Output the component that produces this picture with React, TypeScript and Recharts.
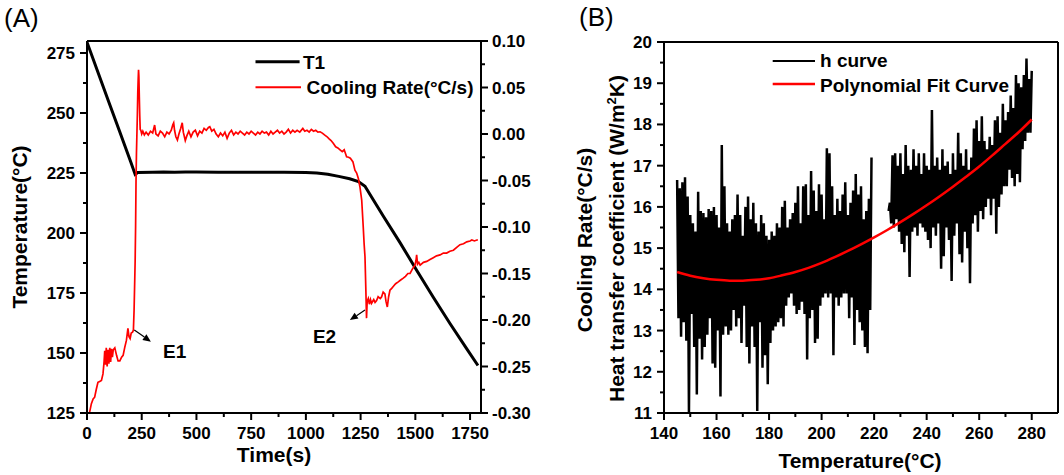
import React from 'react';
import { LineChart, Line, XAxis, YAxis, ReferenceLine, ReferenceDot, Legend } from 'recharts';

const FONT = "'Liberation Sans', Arial, Helvetica, sans-serif";

// ---------------- Panel A data ----------------
const t1Time = [0, 50, 100, 150, 200, 220, 232, 300, 350, 400, 450, 500, 600, 700, 800, 900, 1000, 1050, 1100, 1150, 1200, 1240, 1270, 1300, 1354, 1430, 1506, 1582, 1659, 1735, 1786];
const t1Temp = [279.5, 267.0, 254.5, 242.1, 229.6, 224.4, 225.2, 225.3, 225.4, 225.3, 225.4, 225.4, 225.3, 225.3, 225.3, 225.3, 225.2, 225.0, 224.5, 223.6, 222.6, 221.4, 219.5, 215.0, 207.0, 196.0, 184.5, 173.2, 162.2, 151.7, 144.8];

const crTime = [12, 20, 28, 35, 42, 50, 58, 66, 73, 78,
  81, 85, 88, 92, 96, 100, 104, 108, 112, 116,
  120, 127, 135, 142, 150, 158, 165, 172, 180, 187,
  192, 197, 202, 208, 212, 215, 218, 220, 222, 224,
  226, 228, 230, 232, 234, 235.5, 237, 239, 241, 243,
  246, 250, 255, 262, 270, 280, 290, 300, 309, 315,
  325, 335, 345, 355, 365, 375, 385, 392, 396, 400,
  406, 413, 420, 428, 435, 440, 449, 456, 465, 475,
  485, 495, 505, 515, 525, 535, 545, 555, 561, 570,
  580, 590, 600, 610, 620, 630, 640, 650, 660, 670,
  680, 690, 700, 710, 720, 730, 740, 750, 760, 770,
  780, 790, 800, 810, 820, 830, 840, 850, 860, 870,
  880, 890, 900, 910, 920, 930, 940, 950, 960, 972,
  986, 995, 1005, 1015, 1025, 1035, 1045, 1055, 1065, 1075,
  1085, 1097, 1105, 1115, 1125, 1136, 1146, 1156, 1166, 1175,
  1186, 1195, 1203, 1209, 1215, 1224, 1232, 1240, 1247, 1255,
  1262, 1266, 1270, 1274, 1277, 1280, 1285, 1290, 1295, 1300,
  1310, 1316, 1323, 1330, 1340, 1346, 1353, 1361, 1366, 1372,
  1378, 1384, 1392, 1399, 1410, 1422, 1433, 1445, 1455, 1466,
  1476, 1487, 1498, 1503, 1506, 1510, 1516, 1522, 1537, 1552,
  1567, 1582, 1597, 1613, 1628, 1643, 1658, 1674, 1689, 1704,
  1720, 1735, 1750, 1758, 1770, 1781, 1786];
const crRate = [-0.299, -0.290, -0.285, -0.283, -0.275, -0.267, -0.266, -0.265, -0.258, -0.245,
  -0.233, -0.248, -0.230, -0.250, -0.232, -0.247, -0.230, -0.245, -0.231, -0.240,
  -0.232, -0.230, -0.238, -0.244, -0.244, -0.240, -0.238, -0.230, -0.222, -0.209,
  -0.218, -0.220, -0.214, -0.213, -0.211, -0.190, -0.158, -0.136, -0.100, -0.050,
  -0.020, 0.000, 0.020, 0.045, 0.060, 0.069, 0.062, 0.040, 0.020, 0.005,
  0.004, 0.000, 0.003, -0.001, 0.002, -0.001, 0.003, 0.001, 0.0096, 0.000,
  -0.002, 0.003, 0.001, -0.003, 0.002, 0.000, 0.004, 0.010, 0.012, 0.004,
  -0.003, -0.0065, 0.000, 0.006, 0.012, 0.002, -0.007, -0.002, 0.003, -0.003,
  0.002, 0.004, -0.002, 0.003, 0.001, 0.006, 0.004, 0.007, 0.0078, 0.003,
  0.005, 0.000, -0.003, 0.001, -0.002, 0.002, -0.0047, 0.001, 0.004, -0.001,
  0.002, 0.000, 0.003, 0.001, -0.001, 0.002, 0.000, 0.003, 0.001, -0.001,
  0.002, 0.000, 0.003, 0.001, 0.002, -0.001, 0.003, 0.000, 0.002, 0.004,
  0.001, 0.003, 0.000, 0.002, 0.005, 0.001, 0.004, 0.002, 0.004, 0.002,
  0.006, 0.003, 0.004, 0.002, 0.005, 0.003, 0.004, 0.002, 0.0024, 0.001,
  -0.001, -0.003, -0.005, -0.007, -0.010, -0.0137, -0.015, -0.017, -0.019, -0.017,
  -0.0245, -0.025, -0.026, -0.028, -0.030, -0.039, -0.042, -0.048, -0.057, -0.071,
  -0.100, -0.118, -0.132, -0.168, -0.198, -0.180, -0.177, -0.183, -0.178, -0.182,
  -0.178, -0.181, -0.179, -0.175, -0.177, -0.175, -0.170, -0.172, -0.180, -0.186,
  -0.175, -0.168, -0.166, -0.164, -0.161, -0.159, -0.157, -0.155, -0.153, -0.150,
  -0.150, -0.145, -0.141, -0.136, -0.130, -0.140, -0.138, -0.141, -0.138, -0.137,
  -0.135, -0.133, -0.131, -0.130, -0.128, -0.128, -0.126, -0.125, -0.122, -0.119,
  -0.118, -0.116, -0.115, -0.114, -0.115, -0.114, -0.114];

const timeTicks = [0, 125, 250, 375, 500, 625, 750, 875, 1000, 1125, 1250, 1375, 1500, 1625, 1750];
const tempTicksA = [125, 137.5, 150, 162.5, 175, 187.5, 200, 212.5, 225, 237.5, 250, 262.5, 275];
const rateTicks = [-0.3, -0.275, -0.25, -0.225, -0.2, -0.175, -0.15, -0.125, -0.1, -0.075, -0.05, -0.025, 0, 0.025, 0.05, 0.075, 0.1];

// annotations (data coordinates)
const e1Arrow = [{ x: 216, y: 159.6 }, { x: 292, y: 154.7 }];
const e2Arrow = [{ x: 1270, y: 167.9 }, { x: 1201, y: 163.7 }];
const e1Label = { x: 347, y: 147.9 };
const e2Label = { x: 1032, y: 154.2 };

// ---------------- Panel B data ----------------
const hStart1 = 145;
const hStart2 = 225.5;
const hStep = 0.5;
const gapTemp = 222;
const hSeg1 = [16.65, 13.3, 16.45, 12.85, 16.6, 13.2, 16.72, 12.75, 16.25, 11.0,
  15.8, 13.4, 15.6, 12.6, 15.4, 11.45, 16.37, 12.8, 15.9, 12.3,
  15.85, 12.6, 15.75, 12.9, 15.95, 13.3, 15.9, 12.2, 16.0, 12.1,
  15.8, 13.0, 15.5, 11.4, 17.5, 12.9, 16.5, 13.1, 15.6, 12.9,
  15.4, 13.0, 15.7, 13.5, 15.8, 13.1, 16.3, 13.3, 15.8, 12.7,
  15.3, 13.6, 16.0, 12.6, 16.25, 12.2, 15.7, 13.1, 16.1, 12.6,
  15.6, 11.05, 15.4, 13.2, 15.8, 12.1, 15.6, 12.4, 15.3, 11.7,
  15.2, 12.7, 15.4, 13.0, 15.3, 13.1, 15.6, 13.2, 15.5, 13.3,
  16.0, 13.1, 16.15, 13.6, 15.5, 13.8, 15.7, 13.9, 15.85, 13.6,
  16.1, 13.4, 16.5, 13.5, 15.6, 13.7, 16.5, 13.4, 16.55, 12.3,
  15.8, 13.3, 16.87, 13.5, 16.4, 12.7, 15.9, 12.8, 16.55, 13.6,
  16.3, 13.8, 15.7, 13.9, 17.42, 13.8, 17.3, 13.9, 16.5, 12.4,
  15.8, 13.8, 16.2, 13.6, 15.9, 13.8, 16.3, 13.9, 16.6, 13.9,
  15.8, 13.3, 16.1, 13.8, 16.4, 12.65, 16.8, 13.5, 16.3, 13.2,
  16.5, 13.0, 15.7, 12.6, 15.9, 12.45, 16.2, 13.5, 17.2];
const hSeg2 = [15.9, 16.1, 15.6, 17.25, 15.5, 17.3, 15.7, 17.0, 15.4, 17.3,
  15.1, 16.8, 14.9, 17.5, 15.3, 17.0, 14.3, 16.9, 15.4, 17.4,
  15.5, 17.0, 15.3, 17.3, 15.6, 16.8, 15.5, 17.3, 15.4, 17.0,
  15.2, 16.9, 15.0, 18.35, 15.5, 17.0, 15.3, 17.2, 15.6, 16.9,
  14.5, 17.4, 14.8, 17.0, 15.5, 17.1, 15.2, 16.8, 14.2, 17.3,
  15.3, 16.9, 15.6, 17.8, 14.85, 17.3, 14.65, 17.0, 15.4, 17.4,
  15.0, 16.9, 14.15, 17.2, 15.6, 17.9, 15.8, 18.1, 15.4, 17.6,
  15.9, 18.2, 15.7, 17.6, 16.0, 17.4, 16.2, 17.7, 15.8, 17.5,
  16.2, 18.1, 15.35, 18.2, 16.0, 17.8, 16.3, 18.5, 16.5, 18.1,
  16.5, 18.3, 16.9, 18.7, 16.7, 18.4, 16.5, 19.2, 16.8, 19.0,
  16.6, 18.9, 17.4, 19.2, 17.6, 19.6, 17.8, 19.1, 17.8, 19.3];
const fitTemp = [145, 150, 155, 160, 165, 170, 175, 180, 185, 190, 195, 200, 205, 210, 215, 220, 225, 230, 235, 240, 245, 250, 255, 260, 265, 270, 275, 280];
const fitH = [14.42, 14.33, 14.27, 14.23, 14.21, 14.21, 14.23, 14.27, 14.34, 14.42, 14.52, 14.64, 14.78, 14.93, 15.09, 15.26, 15.44, 15.63, 15.83, 16.04, 16.26, 16.49, 16.73, 16.98, 17.25, 17.53, 17.81, 18.12];
const tempTicksB = [140, 150, 160, 170, 180, 190, 200, 210, 220, 230, 240, 250, 260, 270, 280];
const hTicks = [11, 11.5, 12, 12.5, 13, 13.5, 14, 14.5, 15, 15.5, 16, 16.5, 17, 17.5, 18, 18.5, 19, 19.5, 20];

// ---------------- derived tables ----------------
const t1Data = t1Time.map((t, i) => ({ t, temp: t1Temp[i] }));
const crData = crTime.map((t, i) => ({ t, rate: crRate[i] }));
const hData = [
  ...hSeg1.map((h, i) => ({ t: hStart1 + i * hStep, h })),
  { t: gapTemp, h: null },
  ...hSeg2.map((h, i) => ({ t: hStart2 + i * hStep, h })),
];
const fitData = fitTemp.map((t, i) => ({ t, fit: fitH[i] }));

// ---------------- styling helpers ----------------
const tickFont = { fontFamily: FONT, fontSize: 17, fontWeight: 700, fill: '#000' } as const;
const titleFont = { fontFamily: FONT, fontSize: 21, fontWeight: 700, fill: '#000' } as const;
const legendFont = { fontFamily: FONT, fontSize: 19, fontWeight: 700, fill: '#000' } as const;
const axisLine = { stroke: '#000', strokeWidth: 2 };

type Side = 'left' | 'right' | 'bottom';
const makeTick = (side: Side, isMajor: (v: number) => boolean, fmt: (v: number) => string) =>
  (props: any) => {
    const { x, y, payload } = props;
    const v = Number(payload.value);
    const major = isMajor(v);
    const len = major ? 7 : 4;
    if (side === 'left') {
      return (
        <g>
          <line x1={x} y1={y} x2={x - len} y2={y} stroke="#000" strokeWidth={2} />
          {major && <text x={x - 12} y={y + 6} textAnchor="end" style={tickFont}>{fmt(v)}</text>}
        </g>
      );
    }
    if (side === 'right') {
      return (
        <g>
          <line x1={x} y1={y} x2={x + len} y2={y} stroke="#000" strokeWidth={2} />
          {major && <text x={x + 11} y={y + 6} textAnchor="start" style={tickFont}>{fmt(v)}</text>}
        </g>
      );
    }
    return (
      <g>
        <line x1={x} y1={y} x2={x} y2={y + len} stroke="#000" strokeWidth={2} />
        {major && <text x={x} y={y + 26} textAnchor="middle" style={tickFont}>{fmt(v)}</text>}
      </g>
    );
  };

const tickTimeA = makeTick('bottom', (v) => v % 250 === 0, (v) => String(v));
const tickTempA = makeTick('left', (v) => (v - 125) % 25 === 0, (v) => String(v));
const tickRateA = makeTick('right', (v) => Math.abs(Math.round(v * 1000)) % 50 === 0, (v) => v.toFixed(2));
const tickTempB = makeTick('bottom', (v) => v % 20 === 0, (v) => String(v));
const tickHB = makeTick('left', (v) => Number.isInteger(v), (v) => String(v));

const Arrow = (p: any) => {
  const { x1, y1, x2, y2 } = p;
  const ang = Math.atan2(y2 - y1, x2 - x1);
  const L = 8;
  const W = 3.5;
  const bx = x2 - L * Math.cos(ang);
  const by = y2 - L * Math.sin(ang);
  const px = -Math.sin(ang) * W;
  const py = Math.cos(ang) * W;
  return (
    <g>
      <line x1={x1} y1={y1} x2={bx} y2={by} stroke="#000" strokeWidth={1.2} />
      <polygon points={`${x2},${y2} ${bx + px},${by + py} ${bx - px},${by - py}`} fill="#000" />
    </g>
  );
};

const annText = (txt: string) => (p: any) => (
  <text x={p.cx} y={p.cy} style={{ fontFamily: FONT, fontSize: 19, fontWeight: 700, fill: '#000' }}>{txt}</text>
);

const LegendA = () => (
  <svg width={240} height={52} style={{ display: 'block' }}>
    <line x1={5.5} y1={13.7} x2={49.6} y2={13.7} stroke="#000" strokeWidth={3} />
    <text x={53} y={20.5} style={legendFont}>T1</text>
    <line x1={5.5} y1={39.3} x2={51} y2={39.3} stroke="#ff0000" strokeWidth={2} />
    <text x={56.5} y={46} style={legendFont}>Cooling Rate(°C/s)</text>
  </svg>
);

const LegendB = () => (
  <svg width={260} height={52} style={{ display: 'block' }}>
    <line x1={4.7} y1={15} x2={47} y2={15} stroke="#000" strokeWidth={2} />
    <text x={52} y={21} style={legendFont}>h curve</text>
    <line x1={4.7} y1={38} x2={47} y2={38} stroke="#ff0000" strokeWidth={2.5} />
    <text x={52} y={45.5} style={legendFont}>Polynomial Fit Curve</text>
  </svg>
);

export default function App() {
  return (
    <div style={{ position: 'absolute', left: 0, top: 0, width: 1064, height: 475, background: '#fff', overflow: 'hidden' }}>
      <div style={{ position: 'absolute', left: 0, top: 0 }}>
        <LineChart width={540} height={475} margin={{ top: 41, right: 0, bottom: 0, left: 0 }}>
          <XAxis
            dataKey="t" type="number" domain={[0, 1800]} ticks={timeTicks} interval={0}
            allowDataOverflow height={62} tickSize={0} tickMargin={0} tickLine={false}
            axisLine={axisLine} tick={tickTimeA}
            label={() => (
              <text x={274} y={462} textAnchor="middle" style={titleFont}>Time(s)</text>
            )}
          />
          <YAxis
            yAxisId="left" type="number" domain={[125, 280]} ticks={tempTicksA} interval={0}
            allowDataOverflow width={87} tickSize={0} tickMargin={0} tickLine={false}
            axisLine={axisLine} tick={tickTempA}
            label={() => (
              <text x={27} y={227} transform="rotate(-90 27 227)" textAnchor="middle" style={titleFont}>Temperature(°C)</text>
            )}
          />
          <YAxis
            yAxisId="right" orientation="right" type="number" domain={[-0.3, 0.1]} ticks={rateTicks} interval={0}
            allowDataOverflow width={59} tickSize={0} tickMargin={0} tickLine={false}
            axisLine={axisLine} tick={tickRateA}
          />
          <ReferenceLine yAxisId="left" y={280} stroke="#000" strokeWidth={2} />
          <Line yAxisId="left" data={t1Data} dataKey="temp" type="linear" stroke="#000" strokeWidth={3} dot={false} isAnimationActive={false} />
          <Line yAxisId="right" data={crData} dataKey="rate" type="linear" stroke="#ff0000" strokeWidth={1.7} dot={false} isAnimationActive={false} />
          <ReferenceLine yAxisId="left" segment={e1Arrow} shape={Arrow} />
          <ReferenceLine yAxisId="left" segment={e2Arrow} shape={Arrow} />
          <ReferenceDot yAxisId="left" x={e1Label.x} y={e1Label.y} r={0} shape={annText('E1')} />
          <ReferenceDot yAxisId="left" x={e2Label.x} y={e2Label.y} r={0} shape={annText('E2')} />
          <Legend
            layout="horizontal" verticalAlign="middle" align="center" content={LegendA}
            wrapperStyle={{ position: 'absolute', left: 250, top: 48, width: 240, height: 52 }}
          />
        </LineChart>
      </div>
      <div style={{ position: 'absolute', left: 540, top: 0 }}>
        <LineChart width={524} height={475} margin={{ top: 42, right: 6, bottom: 0, left: 0 }}>
          <XAxis
            dataKey="t" type="number" domain={[140, 290]} ticks={tempTicksB} interval={0}
            allowDataOverflow height={62} tickSize={0} tickMargin={0} tickLine={false}
            axisLine={axisLine} tick={tickTempB}
            label={() => (
              <text x={320} y={468} textAnchor="middle" style={titleFont}>Temperature(°C)</text>
            )}
          />
          <YAxis
            type="number" domain={[11, 20]} ticks={hTicks} interval={0}
            allowDataOverflow width={124} tickSize={0} tickMargin={0} tickLine={false}
            axisLine={axisLine} tick={tickHB}
            label={() => (
              <g>
                <text x={52} y={240} transform="rotate(-90 52 240)" textAnchor="middle" style={titleFont}>Cooling Rate(°C/s)</text>
                <text x={84} y={238.5} transform="rotate(-90 84 238.5)" textAnchor="middle" style={titleFont}>
                  Heat transfer coefficient (W/m<tspan dy={-8} fontSize={13}>2</tspan><tspan dy={8}>K)</tspan>
                </text>
              </g>
            )}
          />
          <ReferenceLine y={20} stroke="#000" strokeWidth={2} />
          <ReferenceLine x={290} stroke="#000" strokeWidth={2} />
          <Line data={hData} dataKey="h" type="linear" stroke="#000" strokeWidth={2.5} dot={false} connectNulls={false} isAnimationActive={false} />
          <Line data={fitData} dataKey="fit" type="monotone" stroke="#ff0000" strokeWidth={2.5} dot={false} isAnimationActive={false} />
          <Legend
            layout="horizontal" verticalAlign="middle" align="center" content={LegendB}
            wrapperStyle={{ position: 'absolute', left: 228, top: 46, width: 260, height: 52 }}
          />
        </LineChart>
      </div>
      <svg width={1064} height={475} style={{ position: 'absolute', left: 0, top: 0, pointerEvents: 'none' }}>
        <text x={4} y={26.5} style={{ fontFamily: FONT, fontSize: 26, fill: '#000' }}>(A)</text>
        <text x={579} y={26} style={{ fontFamily: FONT, fontSize: 26, fill: '#000' }}>(B)</text>
      </svg>
    </div>
  );
}
